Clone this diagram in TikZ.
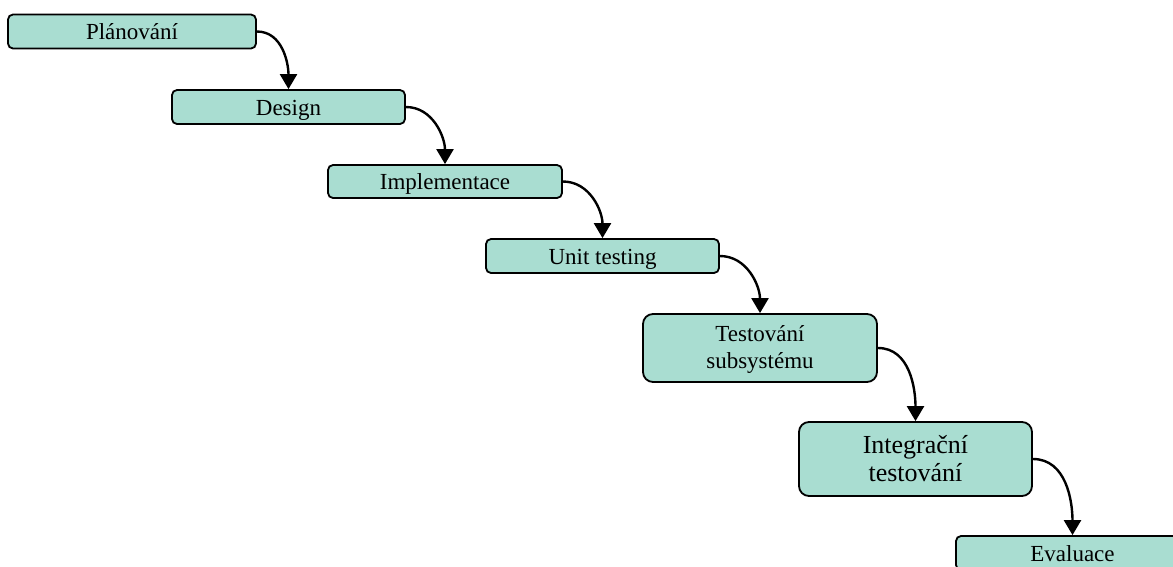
\documentclass[tikz,border=0pt]{standalone}
\usepackage{fontspec}
\setmainfont{Liberation Serif}
\usetikzlibrary{arrows.meta}
\definecolor{phasefill}{HTML}{A9DDD1}
\begin{document}
\begin{tikzpicture}[x=1pt,y=1pt,
  phase/.style={draw=black, line width=1.8pt, fill=phasefill, rounded corners=5pt,
    minimum width=233pt, minimum height=34pt, inner sep=0pt, align=center,
    text height=19pt, text depth=3pt,
    font=\fontsize{23}{26.5}\selectfont},
  tallphase/.style={phase, rounded corners=10pt},
  flow/.style={-{Triangle[length=15pt,width=17pt]}, line width=2.4pt, out=0, in=90}]
\path[use as bounding box] (0,0) rectangle (1173,-566);
\clip (0,0) rectangle (1173,-566);

% waterfall phases
\node[phase, minimum width=248pt] (plan) at (132,-31.5) {Plánování};
\node[phase] (design) at (288.5,-107) {Design};
\node[phase, minimum width=234pt, minimum height=33pt] (impl) at (445,-181.5) {Implementace};
\node[phase] (unit) at (602.5,-256) {Unit testing};
\node[tallphase, minimum width=234pt, minimum height=68pt,
  text height=45.5pt, text depth=5.5pt] (subsys) at (760,-348) {Testování\\subsystému};
\node[tallphase, minimum height=74pt, text height=49.4pt, text depth=4pt,
  font=\fontsize{26}{28.4}\selectfont] (integ) at (915.5,-459) {Integrační\\testování};
\node[phase] (eval) at (1072.5,-553) {Evaluace};

% transitions between phases
\draw[flow] (plan.east) to (design.north);
\draw[flow] (design.east) to (impl.north);
\draw[flow] (impl.east) to (unit.north);
\draw[flow] (unit.east) to (subsys.north);
\draw[flow] (subsys.east) to (integ.north);
\draw[flow] (integ.east) to (eval.north);
\end{tikzpicture}
\end{document}
